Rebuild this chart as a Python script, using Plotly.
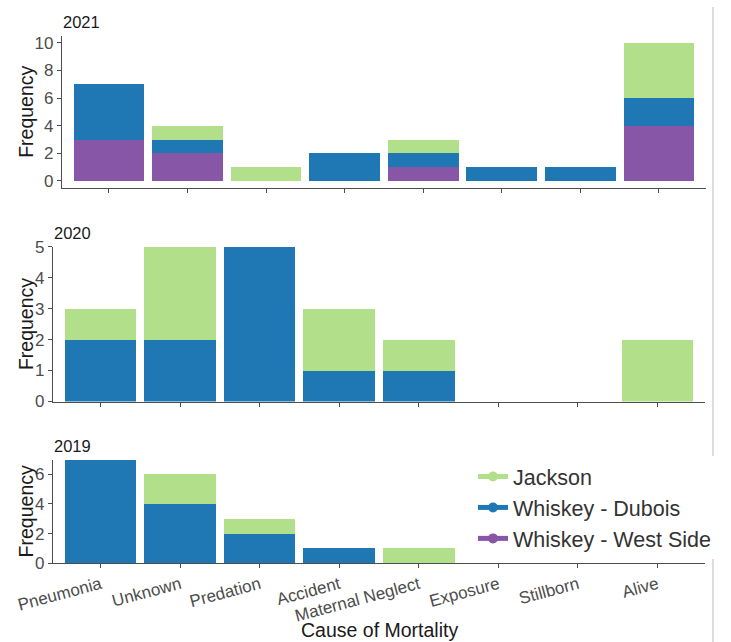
import plotly.graph_objects as go

# Causes of mortality, in display order
causes = ["Pneumonia", "Unknown", "Predation", "Accident", "Maternal Neglect",
          "Exposure", "Stillborn", "Alive"]

# Counts per herd, one list per year (same order as causes)
jackson_2021 = [0, 1, 1, 0, 1, 0, 0, 4]
dubois_2021 = [4, 1, 0, 2, 1, 1, 1, 2]
westside_2021 = [3, 2, 0, 0, 1, 0, 0, 4]

jackson_2020 = [1, 3, 0, 2, 1, 0, 0, 2]
dubois_2020 = [2, 2, 5, 1, 1, 0, 0, 0]
westside_2020 = [0, 0, 0, 0, 0, 0, 0, 0]

jackson_2019 = [0, 2, 1, 0, 1, 0, 0, 0]
dubois_2019 = [7, 4, 2, 1, 0, 0, 0, 0]
westside_2019 = [0, 0, 0, 0, 0, 0, 0, 0]

years = ["2021", "2020", "2019"]
herds = ["Jackson", "Whiskey - Dubois", "Whiskey - West Side"]
colors = {"Jackson": "#B2DF8A", "Whiskey - Dubois": "#1F78B4",
          "Whiskey - West Side": "#8856A7"}

panel_data = {
    "2021": {"Jackson": jackson_2021, "Whiskey - Dubois": dubois_2021,
             "Whiskey - West Side": westside_2021},
    "2020": {"Jackson": jackson_2020, "Whiskey - Dubois": dubois_2020,
             "Whiskey - West Side": westside_2020},
    "2019": {"Jackson": jackson_2019, "Whiskey - Dubois": dubois_2019,
             "Whiskey - West Side": westside_2019},
}

W, H = 731, 642
FONT = "Liberation Sans, Arial, sans-serif"
AXIS_COL = "#4D4D4D"
TEXT_COL = "#1A1A1A"


def px_x(p):
    return p / W


def px_y(p):
    return 1 - p / H


# panel geometry: (x0, x1, ytop, ybottom) in pixels, y range, tick values
panels = {
    "2021": dict(x=(61.8, 706.1), y=(35.8, 187.9), yr=[-0.5, 10.5],
                 tv=[0, 2, 4, 6, 8, 10]),
    "2020": dict(x=(52.8, 705.2), y=(246.7, 401.5), yr=[0, 5],
                 tv=[0, 1, 2, 3, 4, 5]),
    "2019": dict(x=(52.8, 705.2), y=(459.5, 563.3), yr=[0, 7],
                 tv=[0, 2, 4, 6]),
}

fig = go.Figure()
layout = {}
annotations = []

for i, yr in enumerate(years, start=1):
    xa = "x" if i == 1 else f"x{i}"
    ya = "y" if i == 1 else f"y{i}"
    # stack from the bottom: West Side, Dubois, Jackson
    for herd in ["Whiskey - West Side", "Whiskey - Dubois", "Jackson"]:
        fig.add_trace(go.Bar(
            x=causes, y=panel_data[yr][herd], name=herd,
            marker=dict(color=colors[herd], line=dict(width=0)),
            width=0.9, showlegend=False, xaxis=xa, yaxis=ya,
        ))
    g = panels[yr]
    key = "" if i == 1 else str(i)
    layout["xaxis" + key] = dict(
        domain=[px_x(g["x"][0]), px_x(g["x"][1])],
        anchor=ya, type="category", categoryorder="array",
        categoryarray=causes, range=[-0.6, 7.6], automargin=False,
        showline=True, linecolor=AXIS_COL, linewidth=1,
        ticks="outside", ticklen=4, tickcolor=AXIS_COL,
        showticklabels=(yr == "2019"), tickangle=-15,
        tickfont=dict(family=FONT, size=17, color=AXIS_COL),
        showgrid=False, zeroline=False, fixedrange=True,
    )
    layout["yaxis" + key] = dict(
        domain=[px_y(g["y"][1]), px_y(g["y"][0])],
        anchor=xa, range=g["yr"], tickvals=g["tv"], automargin=False,
        showline=True, linecolor=AXIS_COL, linewidth=1,
        ticks="outside", ticklen=4, tickcolor=AXIS_COL,
        tickfont=dict(family=FONT, size=17, color=AXIS_COL),
        showgrid=False, zeroline=False, fixedrange=True,
    )
    # year label above each panel
    annotations.append(dict(
        text=yr, x=px_x(g["x"][0] - 1), y=px_y(g["y"][0] - 14),
        xref="paper", yref="paper", xanchor="left", yanchor="middle",
        showarrow=False, font=dict(family=FONT, size=16.5, color=TEXT_COL),
    ))
    # y-axis title
    annotations.append(dict(
        text="Frequency", x=px_x(26), y=px_y((g["y"][0] + g["y"][1]) / 2),
        xref="paper", yref="paper", xanchor="center", yanchor="middle",
        textangle=-90, showarrow=False,
        font=dict(family=FONT, size=19.5, color=TEXT_COL),
    ))

annotations.append(dict(
    text="Cause of Mortality", x=px_x(379), y=px_y(629.5),
    xref="paper", yref="paper", xanchor="center", yanchor="middle",
    showarrow=False, font=dict(family=FONT, size=19.5, color=TEXT_COL),
))

# legend keys
for herd in herds:
    fig.add_trace(go.Scatter(
        x=[None], y=[None], name=herd, mode="lines+markers",
        line=dict(color=colors[herd], width=5),
        marker=dict(color=colors[herd], size=10, symbol="circle"),
        xaxis="x3", yaxis="y3", legendgroup=herd, showlegend=True,
    ))

# thin grey frame edge on the right, interrupted behind the legend box
edge = dict(color="#D3D3D3", width=1.5)
shapes = [
    dict(type="line", xref="paper", yref="paper",
         x0=px_x(713), x1=px_x(713), y0=px_y(456), y1=px_y(7),
         line=edge, layer="below"),
    dict(type="line", xref="paper", yref="paper",
         x0=px_x(713), x1=px_x(713), y0=0, y1=px_y(554),
         line=edge, layer="below"),
]

fig.update_layout(
    width=W, height=H,
    margin=dict(l=0, r=0, t=0, b=0, autoexpand=False),
    paper_bgcolor="white", plot_bgcolor="white",
    barmode="stack", bargap=0.1,
    showlegend=True,
    legend=dict(
        x=px_x(473), y=px_y(456), xanchor="left", yanchor="top",
        bgcolor="white", borderwidth=0,
        font=dict(family=FONT, size=21.5, color="#333333"),
        traceorder="grouped", tracegroupgap=0, itemwidth=30,
    ),
    annotations=annotations,
    shapes=shapes,
    **layout,
)

fig.write_html("out.html")
